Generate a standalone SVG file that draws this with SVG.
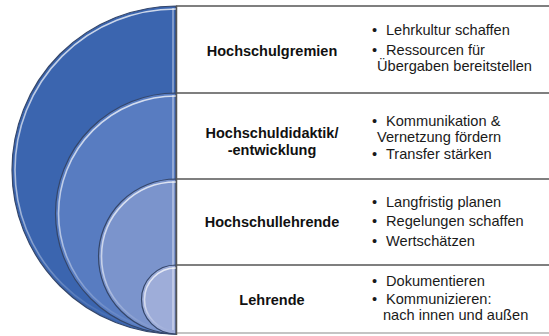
<svg xmlns="http://www.w3.org/2000/svg" width="549" height="336" viewBox="0 0 549 336">
<defs>
<linearGradient id="hl" x1="0" y1="0" x2="0" y2="1">
<stop offset="0" stop-color="#ffffff" stop-opacity="0.75"/>
<stop offset="0.6" stop-color="#ffffff" stop-opacity="0.55"/>
<stop offset="1" stop-color="#ffffff" stop-opacity="0"/>
</linearGradient>
<style>
.disc{stroke:#34466a;stroke-width:1.2}
.hl{fill:none;stroke:url(#hl);stroke-width:1.6}
.vhl{stroke:#ffffff;stroke-opacity:0.35;stroke-width:2}
.sep{stroke:#555555;stroke-width:1.5}
.lbl{font-family:"Liberation Sans",Arial,sans-serif;font-weight:bold;font-size:14.5px;fill:#111111;text-anchor:middle}
.blt{font-family:"Liberation Sans",Arial,sans-serif;font-size:14.6px;fill:#1a1a1a}
</style>
</defs>
<rect width="549" height="336" fill="#ffffff"/>
<g id="level1">
<path class="disc" fill="#3B65AF" d="M176 6 A164 164 0 0 0 176 334 Z"/>
<path class="hl" d="M176 9 A161 161 0 0 0 176 331"/>
<line class="vhl" x1="173" y1="8" x2="173" y2="330"/>
</g>
<g id="level2">
<path class="disc" fill="#587CC1" d="M176 93 A120.5 120.5 0 0 0 176 334 Z"/>
<path class="hl" d="M176 96 A117.5 117.5 0 0 0 176 331"/>
<line class="vhl" x1="173" y1="95" x2="173" y2="330"/>
</g>
<g id="level3">
<path class="disc" fill="#7B94CC" d="M176 179 A77.5 77.5 0 0 0 176 334 Z"/>
<path class="hl" d="M176 182 A74.5 74.5 0 0 0 176 331"/>
<line class="vhl" x1="173" y1="181" x2="173" y2="330"/>
</g>
<g id="level4">
<path class="disc" fill="#9EADD9" d="M176 265 A34.5 34.5 0 0 0 176 334 Z"/>
<path class="hl" d="M176 268 A31.5 31.5 0 0 0 176 331"/>
<line class="vhl" x1="173" y1="267" x2="173" y2="330"/>
</g>
<g id="table-lines">
<line class="sep" x1="176" y1="6" x2="549" y2="6"/>
<line class="sep" x1="176" y1="93" x2="549" y2="93"/>
<line class="sep" x1="176" y1="179" x2="549" y2="179"/>
<line class="sep" x1="176" y1="265" x2="549" y2="265"/>
<line x1="176" y1="333" x2="549" y2="333" stroke="#b0b0b0" stroke-width="1.5"/>
<line class="sep" x1="176.5" y1="6" x2="176.5" y2="335"/>
</g>
<g id="row1">
<text class="lbl" x="272" y="56">Hochschulgremien</text>
<text class="blt"><tspan x="372" y="35">•</tspan><tspan x="386" y="35">Lehrkultur schaffen</tspan><tspan x="372" y="55">•</tspan><tspan x="386" y="55">Ressourcen für</tspan><tspan x="377" y="71">Übergaben bereitstellen</tspan></text>
</g>
<g id="row2">
<text class="lbl" x="272" y="138">Hochschuldidaktik/</text>
<text class="lbl" x="272" y="155">-entwicklung</text>
<text class="blt"><tspan x="372" y="126">•</tspan><tspan x="386" y="126">Kommunikation &amp;</tspan><tspan x="377" y="142">Vernetzung fördern</tspan><tspan x="372" y="159">•</tspan><tspan x="386" y="159">Transfer stärken</tspan></text>
</g>
<g id="row3">
<text class="lbl" x="272" y="227">Hochschullehrende</text>
<text class="blt"><tspan x="372" y="207">•</tspan><tspan x="386" y="207">Langfristig planen</tspan><tspan x="372" y="226">•</tspan><tspan x="386" y="226">Regelungen schaffen</tspan><tspan x="372" y="246">•</tspan><tspan x="386" y="246">Wertschätzen</tspan></text>
</g>
<g id="row4">
<text class="lbl" x="272" y="305">Lehrende</text>
<text class="blt"><tspan x="372" y="286">•</tspan><tspan x="386" y="286">Dokumentieren</tspan><tspan x="372" y="304">•</tspan><tspan x="386" y="304">Kommunizieren:</tspan><tspan x="383" y="320">nach innen und außen</tspan></text>
</g>
</svg>
